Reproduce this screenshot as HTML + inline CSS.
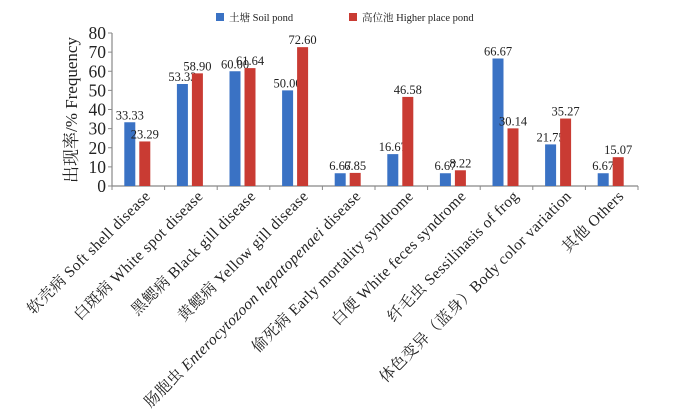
<!DOCTYPE html>
<html><head><meta charset="utf-8">
<style>
html,body{margin:0;padding:0;background:#fff;}
svg{display:block;font-family:"Liberation Serif","Noto Serif CJK SC",serif;}
</style></head>
<body>
<svg id="chart" width="700" height="411" viewBox="0 0 700 411">
  <g>
    <rect x="216" y="13" width="8" height="8" fill="#3a72c4"/>
    <text x="229" y="21" font-size="10.5" fill="#222">土塘 Soil pond</text>
    <rect x="349" y="13" width="8" height="8" fill="#c93b33"/>
    <text x="362" y="21" font-size="10.5" fill="#222">高位池 Higher place pond</text>
  </g>
  <text transform="translate(77,110) rotate(-90)" text-anchor="middle" font-size="17" fill="#222">出现率/% Frequency</text>
  <g id="axes"></g>
  <g id="bars"></g>
</svg>
<script>
const categories = ["软壳病 Soft shell disease","白斑病 White spot disease","黑鳃病 Black gill disease","黄鳃病 Yellow gill disease","肠胞虫 |Enterocytozoon hepatopenaei| disease","偷死病 Early mortality syndrome","白便 White feces syndrome","纤毛虫 Sessilinasis of frog","体色变异（蓝身）Body color variation","其他 Others"];
const soilValues = [33.33,53.33,60.00,50.00,6.67,16.67,6.67,66.67,21.75,6.67];
const higherValues = [23.29,58.90,61.64,72.60,6.85,46.58,8.22,30.14,35.27,15.07];
const yTicks = [0,10,20,30,40,50,60,70,80];

const NS="http://www.w3.org/2000/svg";
const x0=112,x1=638,yBase=186,yTop=33,yMax=80;
const step=(x1-x0)/categories.length;
function yScale(v){return yBase-(v/yMax)*(yBase-yTop);}
function xCenter(i){return x0+step*(i+0.5);}
function mk(tag,attrs,parent){const e=document.createElementNS(NS,tag);for(const k in attrs)e.setAttribute(k,attrs[k]);parent.appendChild(e);return e;}
const axes=document.getElementById('axes'),bars=document.getElementById('bars');

const ya=mk('line',{x1:x0,y1:yTop,x2:x0,y2:yBase,stroke:'#888','stroke-width':1.2},axes);


const xa=mk('line',{x1:x0,y1:yBase,x2:x1,y2:yBase,stroke:'#888','stroke-width':1.2},axes);


yTicks.forEach(t=>{
  const y=yScale(t);
  const tk=mk('line',{x1:x0-4,y1:y,x2:x0,y2:y,stroke:'#888'},axes);
  
  
  const lb=mk('text',{x:x0-6,y:y+6,'text-anchor':'end','font-size':17.5,fill:'#222'},axes);
  lb.textContent=t;
  
  
});
for(let i=0;i<=categories.length;i++){
  const x=x0+step*i;
  const tk=mk('line',{x1:x,y1:yBase,x2:x,y2:yBase+4,stroke:'#888'},axes);
  
  
}
categories.forEach((c,i)=>{
  const cx=xCenter(i);
  const lb=mk('text',{transform:`translate(${cx+13},197) rotate(-45)`,'text-anchor':'end','font-size':15.5,'letter-spacing':0.4,fill:'#222'},axes);
  
  
  c.split('|').forEach((part,k)=>{
    const ts=mk('tspan',{},lb);
    if(k%2===1) ts.setAttribute('font-style','italic');
    ts.textContent=part;
  });
  [[soilValues[i],cx-14,'#3a72c4','bar-soil'],[higherValues[i],cx+1,'#c93b33','bar-higher']].forEach(([v,bx,col,nm])=>{
    const y=yScale(v);
    const r=mk('rect',{x:bx,y:y,width:11,height:yBase-y,fill:col},bars);
    
    
    const t=mk('text',{x:bx+5.5,y:y-3,'text-anchor':'middle','font-size':12.5,fill:'#222'},bars);
    t.textContent=v.toFixed(2);
    
    
  });
});
</script>
</body></html>
